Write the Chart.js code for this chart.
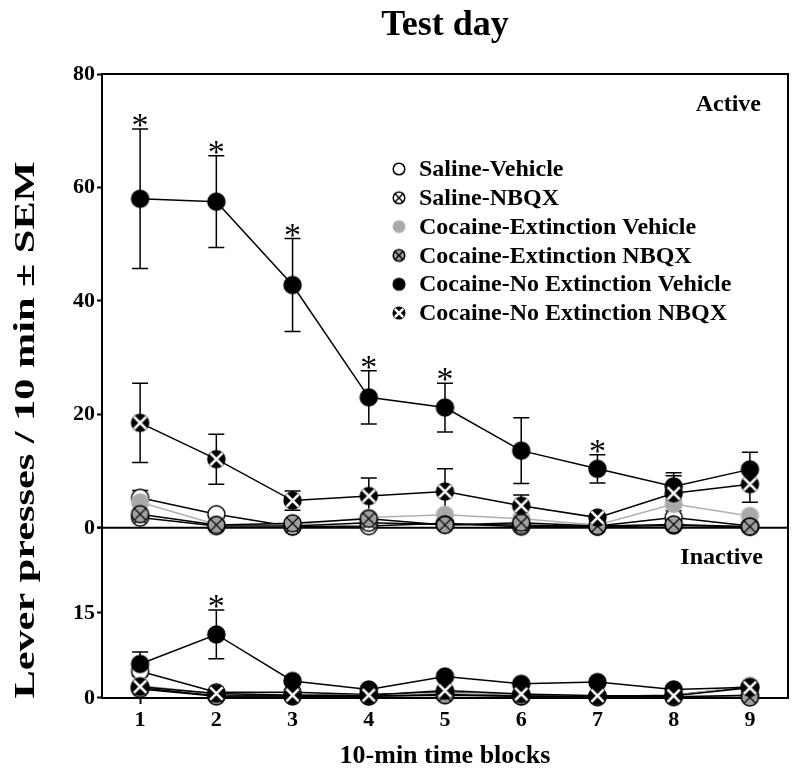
<!DOCTYPE html>
<html>
<head>
<meta charset="utf-8">
<script src="https://cdn.jsdelivr.net/npm/chart.js@4.4.1/dist/chart.umd.min.js"></script>
<style>
  html, body { margin: 0; padding: 0; background: #fff; }
</style>
</head>
<body>
<canvas id="chart" width="800" height="776"></canvas>
<script>
// 10-min time blocks
const blocks = [1, 2, 3, 4, 5, 6, 7, 8, 9];
const groupNames = ['Saline-Vehicle', 'Saline-NBQX', 'Cocaine-Extinction Vehicle',
    'Cocaine-Extinction NBQX', 'Cocaine-No Extinction Vehicle', 'Cocaine-No Extinction NBQX'];

// Active lever presses (mean)
const activeSalVeh = [5.3, 2.4, 0.2, 0.3, 0.8, 0.2, 0.3, 1.8, 0.3];
const activeSalNbqx = [1.8, 0.3, 0.3, 0.9, 0.6, 0.5, 0.2, 0.4, 0.2];
const activeExtVeh = [4.5, 0.6, 0.5, 1.8, 2.3, 1.6, 0.5, 4.2, 2.1];
const activeExtNbqx = [2.4, 0.5, 0.8, 1.6, 0.5, 0.9, 0.3, 0.6, 0.2];
const activeNoExtVeh = [58.0, 57.5, 42.8, 23.0, 21.2, 13.6, 10.4, 7.3, 10.3];
const activeNoExtNbqx = [18.5, 12.1, 4.8, 5.6, 6.4, 3.9, 1.8, 6.1, 7.7];

// Active SEM
const activeSalVehSem = [1.3, 0.5, 0.2, 0.2, 0.4, 0.2, 0.2, 0.6, 0.2];
const activeNoExtVehSem = [12.3, 8.1, 8.2, 4.7, 4.3, 5.8, 2.5, 2.4, 3.0];
const activeNoExtNbqxSem = [7.0, 4.4, 1.7, 3.2, 4.0, 1.9, 0.5, 3.1, 3.2];

// Inactive lever presses (mean)
const inactSalVeh = [4.7, 1.0, 1.0, 0.6, 1.0, 0.5, 0.3, 0.5, 2.0];
const inactSalNbqx = [1.8, 0.4, 0.3, 0.3, 0.6, 0.3, 0.2, 0.2, 0.5];
const inactExtVeh = [2.2, 0.7, 0.6, 0.5, 0.9, 0.6, 0.4, 0.4, 2.2];
const inactExtNbqx = [1.6, 0.3, 0.4, 0.3, 0.5, 0.3, 0.2, 0.2, 0.1];
const inactNoExtVeh = [6.0, 11.2, 3.0, 1.5, 3.8, 2.5, 2.8, 1.5, 1.9];
const inactNoExtNbqx = [2.0, 0.8, 0.5, 0.5, 1.3, 0.7, 0.4, 0.4, 1.8];

// Inactive SEM
const inactNoExtVehSem = [2.1, 4.3, 0.5, 0.3, 0.5, 0.4, 0.5, 0.3, 0.4];

// blocks marked with *
const starsActive = [1, 2, 3, 4, 5, 7];
const starsInactive = [2];

const yTicksActive = [0, 20, 40, 60, 80];
const yTicksInactive = [0, 15];

const SERIF = '"Liberation Serif", "Times New Roman", serif';

// marker look per group
const markerStyle = [
    { fill: '#fff', stroke: '#000', cross: null },
    { fill: '#fff', stroke: '#000', cross: '#000' },
    { fill: '#a9a9a9', stroke: '#b5b5b5', cross: null },
    { fill: '#a0a0a0', stroke: '#000', cross: '#000' },
    { fill: '#000', stroke: '#000', cross: null },
    { fill: '#000', stroke: '#000', cross: '#fff' }
];

function makeMarker(style, r) {
    const s = Math.ceil(r * 2 + 4);
    const c = document.createElement('canvas');
    c.width = s;
    c.height = s;
    const g = c.getContext('2d');
    const m = s / 2;
    g.beginPath();
    g.arc(m, m, r, 0, Math.PI * 2);
    g.fillStyle = style.fill;
    g.fill();
    g.lineWidth = 1.5;
    g.strokeStyle = style.stroke;
    g.stroke();
    if (style.cross) {
        const d = r * 0.72;
        g.beginPath();
        g.moveTo(m - d, m - d);
        g.lineTo(m + d, m + d);
        g.moveTo(m + d, m - d);
        g.lineTo(m - d, m + d);
        g.strokeStyle = style.cross;
        g.lineWidth = style.cross === '#fff' ? 2.6 : 1.4;
        g.stroke();
    }
    return c;
}

const bigMarkers = markerStyle.map(s => makeMarker(s, 8.5));
const smallMarkers = markerStyle.map(s => makeMarker(s, 5.8));

const lineColors = ['#000', '#000', '#b0b0b0', '#000', '#000', '#000'];
const drawOrder = [5, 3, 4, 1, 2, 0];

function toPoints(values) {
    return blocks.map((b, i) => ({ x: b, y: values[i] }));
}

function makeSet(g, values, axis, sem) {
    return {
        label: groupNames[g],
        data: toPoints(values),
        yAxisID: axis,
        sem: sem,
        borderColor: lineColors[g],
        borderWidth: 1.5,
        pointStyle: bigMarkers[g],
        pointRadius: 9,
        tension: 0,
        clip: false,
        order: drawOrder[g]
    };
}

const datasets = [
    makeSet(0, activeSalVeh, 'yA', activeSalVehSem),
    makeSet(1, activeSalNbqx, 'yA'),
    makeSet(2, activeExtVeh, 'yA'),
    makeSet(3, activeExtNbqx, 'yA'),
    makeSet(4, activeNoExtVeh, 'yA', activeNoExtVehSem),
    makeSet(5, activeNoExtNbqx, 'yA', activeNoExtNbqxSem),
    makeSet(0, inactSalVeh, 'yI'),
    makeSet(1, inactSalNbqx, 'yI'),
    makeSet(2, inactExtVeh, 'yI'),
    makeSet(3, inactExtNbqx, 'yI'),
    makeSet(4, inactNoExtVeh, 'yI', inactNoExtVehSem),
    makeSet(5, inactNoExtNbqx, 'yI')
];

// box round the active panel, divider and right edge
const framePlugin = {
    id: 'frame',
    beforeDatasetsDraw(chart) {
        const { ctx, chartArea } = chart;
        const yA = chart.scales.yA;
        ctx.save();
        ctx.strokeStyle = '#000';
        ctx.lineWidth = 2;
        ctx.beginPath();
        ctx.moveTo(chartArea.left, yA.getPixelForValue(80));
        ctx.lineTo(chartArea.right, yA.getPixelForValue(80));
        ctx.lineTo(chartArea.right, chartArea.bottom);
        ctx.moveTo(chartArea.left - 5, yA.getPixelForValue(0));
        ctx.lineTo(chartArea.right, yA.getPixelForValue(0));
        ctx.stroke();
        ctx.restore();
    }
};

// SEM whiskers and significance stars
const errorPlugin = {
    id: 'errorBars',
    beforeDatasetsDraw(chart) {
        const ctx = chart.ctx;
        const xs = chart.scales.x;
        ctx.save();
        ctx.strokeStyle = '#000';
        ctx.lineWidth = 1.5;
        chart.data.datasets.forEach(ds => {
            if (!ds.sem) return;
            const ys = chart.scales[ds.yAxisID];
            ds.data.forEach((p, i) => {
                const px = xs.getPixelForValue(p.x);
                const top = ys.getPixelForValue(p.y + ds.sem[i]);
                const bot = ys.getPixelForValue(Math.max(p.y - ds.sem[i], 0));
                ctx.beginPath();
                ctx.moveTo(px, top);
                ctx.lineTo(px, bot);
                ctx.moveTo(px - 8, top);
                ctx.lineTo(px + 8, top);
                ctx.moveTo(px - 8, bot);
                ctx.lineTo(px + 8, bot);
                ctx.stroke();
            });
        });
        ctx.restore();
    },
    afterDatasetsDraw(chart) {
        const ctx = chart.ctx;
        const xs = chart.scales.x;
        ctx.save();
        ctx.fillStyle = '#000';
        ctx.font = '34px ' + SERIF;
        ctx.textAlign = 'center';
        ctx.textBaseline = 'alphabetic';
        const put = (axis, means, sems, list) => {
            const ys = chart.scales[axis];
            list.forEach(b => {
                const i = blocks.indexOf(b);
                const top = ys.getPixelForValue(means[i] + sems[i]);
                ctx.fillText('*', xs.getPixelForValue(b), top + 7);
            });
        };
        put('yA', activeNoExtVeh, activeNoExtVehSem, starsActive);
        put('yI', inactNoExtVeh, inactNoExtVehSem, starsInactive);
        ctx.restore();
    }
};

// title, y title, panel names, legend
const textPlugin = {
    id: 'texts',
    afterDraw(chart) {
        const ctx = chart.ctx;
        const area = chart.chartArea;
        ctx.save();
        ctx.fillStyle = '#000';

        ctx.font = 'bold 36px ' + SERIF;
        ctx.textAlign = 'center';
        ctx.textBaseline = 'alphabetic';
        ctx.fillText('Test day', (area.left + area.right) / 2, 35);

        ctx.save();
        ctx.translate(34, 430);
        ctx.rotate(-Math.PI / 2);
        ctx.scale(1.41, 1);
        ctx.font = 'bold 30px ' + SERIF;
        ctx.textAlign = 'center';
        ctx.textBaseline = 'alphabetic';
        ctx.fillText('Lever presses / 10 min \u00b1 SEM', 0, 0);
        ctx.restore();

        ctx.font = 'bold 24px ' + SERIF;
        ctx.textAlign = 'right';
        ctx.textBaseline = 'middle';
        ctx.fillText('Active', 761, 105);
        ctx.fillText('Inactive', 763, 558);

        ctx.font = 'bold 24px ' + SERIF;
        ctx.textAlign = 'left';
        groupNames.forEach((name, i) => {
            const y = 169 + i * 28.8;
            const img = smallMarkers[i];
            ctx.drawImage(img, 399 - img.width / 2, y - img.height / 2);
            ctx.fillText(name, 419, y + 1);
        });
        ctx.restore();
    }
};

const ctx = document.getElementById('chart').getContext('2d');
const chart = new Chart(ctx, {
    type: 'line',
    data: { datasets: datasets },
    options: {
        responsive: false,
        animation: false,
        layout: { padding: { left: 0, right: 12, top: 74, bottom: 0 } },
        plugins: {
            legend: { display: false },
            tooltip: { enabled: false },
            title: { display: false }
        },
        scales: {
            x: {
                type: 'linear',
                min: 0.5,
                max: 9.5,
                afterBuildTicks: s => { s.ticks = blocks.map(v => ({ value: v })); },
                afterFit: s => { s.height = 78; },
                grid: { drawOnChartArea: false, tickLength: 6, tickWidth: 2, tickColor: '#000' },
                border: { color: '#000', width: 2 },
                ticks: { color: '#000', padding: 3, font: { family: SERIF, size: 22, weight: 'bold' } },
                title: {
                    display: true,
                    text: '10-min time blocks',
                    color: '#000',
                    font: { family: SERIF, size: 26, weight: 'bold' },
                    padding: { top: 0, bottom: 4 }
                }
            },
            yI: {
                type: 'linear',
                position: 'left',
                stack: 'panels',
                stackWeight: 30,
                min: 0,
                max: 30,
                afterBuildTicks: s => { s.ticks = yTicksInactive.map(v => ({ value: v })); },
                afterFit: s => { s.width = 102; },
                grid: { drawOnChartArea: false, tickLength: 5, tickWidth: 2, tickColor: '#000' },
                border: { color: '#000', width: 2 },
                ticks: { color: '#000', padding: 2, font: { family: SERIF, size: 22, weight: 'bold' } }
            },
            yA: {
                type: 'linear',
                position: 'left',
                stack: 'panels',
                stackWeight: 80,
                min: 0,
                max: 80,
                afterBuildTicks: s => { s.ticks = yTicksActive.map(v => ({ value: v })); },
                afterFit: s => { s.width = 102; },
                grid: { drawOnChartArea: false, tickLength: 5, tickWidth: 2, tickColor: '#000' },
                border: { color: '#000', width: 2 },
                ticks: { color: '#000', padding: 2, font: { family: SERIF, size: 22, weight: 'bold' } }
            }
        }
    },
    plugins: [framePlugin, errorPlugin, textPlugin]
});
</script>
</body>
</html>
